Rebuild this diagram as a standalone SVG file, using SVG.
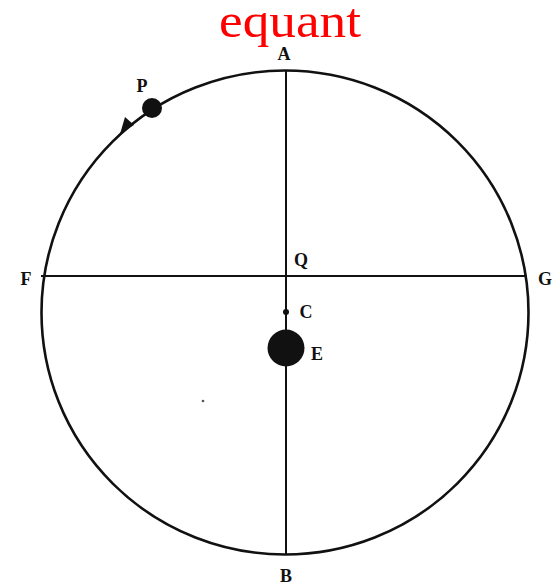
<svg xmlns="http://www.w3.org/2000/svg" width="560" height="586" viewBox="0 0 560 586">
<style>
.ln{stroke:#111;fill:none}
.lb{font-family:"Liberation Serif",serif;font-weight:bold;font-size:18px;fill:#111}
</style>
<rect width="560" height="586" fill="#fff"/>
<text x="290" y="37" text-anchor="middle" font-family="Liberation Serif,serif" font-size="48" textLength="142" lengthAdjust="spacingAndGlyphs" fill="#f00">equant</text>
<g id="connectors">
<ellipse class="ln" cx="285" cy="312.5" rx="243.5" ry="242" stroke-width="2.6"/>
<line class="ln" x1="286" y1="70" x2="286" y2="555" stroke-width="2"/>
<line class="ln" x1="41" y1="276" x2="527" y2="276" stroke-width="2"/>
<path d="M120,134 L125,117 L134,125 Z" fill="#111"/>
</g>
<g id="P"><circle cx="152" cy="108" r="10" fill="#111"/><text class="lb" x="142" y="92" text-anchor="middle">P</text></g>
<g id="A"><text class="lb" x="284" y="60" text-anchor="middle">A</text></g>
<g id="B"><text class="lb" x="286" y="582" text-anchor="middle">B</text></g>
<g id="F"><text class="lb" x="26" y="285" text-anchor="middle">F</text></g>
<g id="G"><text class="lb" x="545" y="285" text-anchor="middle">G</text></g>
<g id="Q"><text class="lb" x="301" y="266" text-anchor="middle">Q</text></g>
<g id="C"><circle cx="286" cy="312" r="3" fill="#111"/><text class="lb" x="306" y="318" text-anchor="middle">C</text></g>
<g id="E"><circle cx="286" cy="348" r="18.5" fill="#111"/><text class="lb" x="317" y="360" text-anchor="middle">E</text></g>
<circle cx="203" cy="401" r="1.3" fill="#555"/>
</svg>
